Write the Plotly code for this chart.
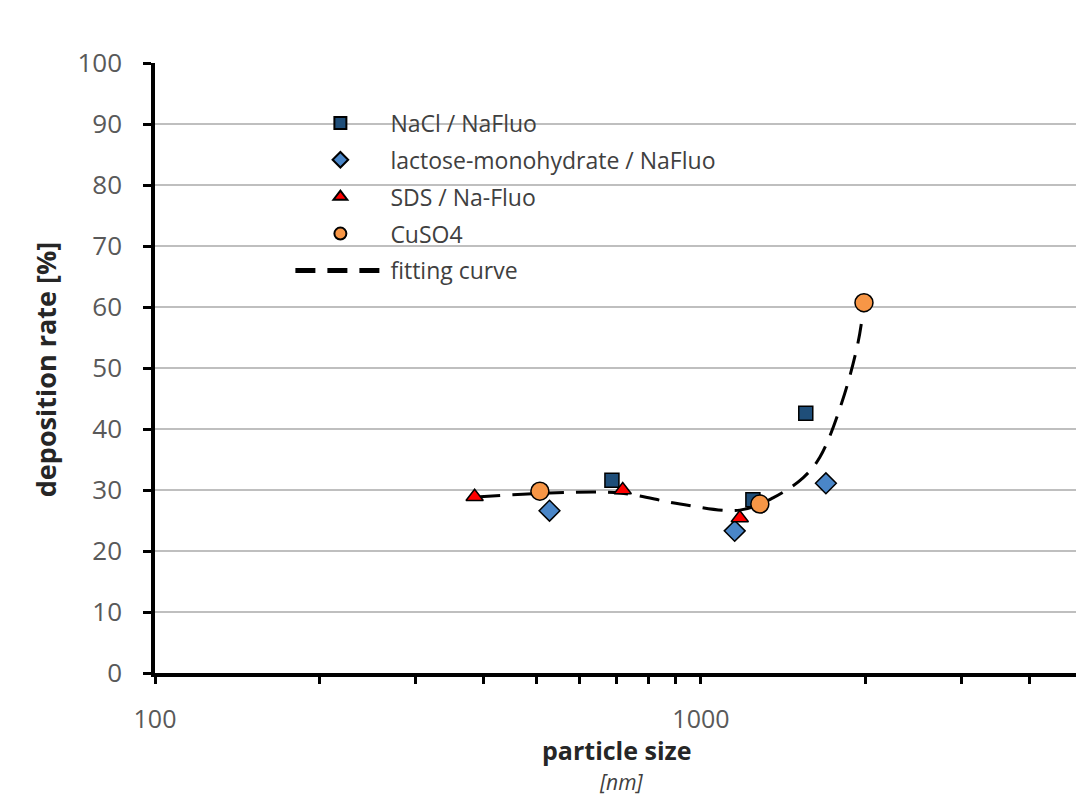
import plotly.graph_objects as go

# Data
nacl_x = [687, 1245, 1556]
nacl_y = [31.6, 28.4, 42.6]
lact_x = [528, 1153, 1694]
lact_y = [26.6, 23.3, 31.1]
sds_x = [385, 719, 1178]
sds_y = [28.9, 30.0, 25.4]
cuso4_x = [507, 1282, 1989]
cuso4_y = [29.8, 27.7, 60.7]
fit_x = [394, 528, 711, 916, 1178, 1355, 1538, 1652, 1811, 1939, 1989]
fit_y = [28.9, 29.5, 29.5, 27.7, 26.7, 28.7, 32.0, 35.4, 44.3, 54.1, 60.5]

FONT = "Open Sans"
line = dict(color="black", width=1.5)

fig = go.Figure()
fig.add_trace(go.Scatter(x=fit_x, y=fit_y, mode="lines", name="fitting curve",
                         legendgroup="e", legendrank=5,
                         line=dict(color="black", width=3, dash="20px,12px", shape="spline")))
fig.add_trace(go.Scatter(x=nacl_x, y=nacl_y, mode="markers", name="NaCl / NaFluo",
                         legendgroup="a", legendrank=1,
                         marker=dict(symbol="square", size=14, color="#1F4E79", line=line)))
fig.add_trace(go.Scatter(x=lact_x, y=lact_y, mode="markers", name="lactose-monohydrate / NaFluo",
                         legendgroup="b", legendrank=2,
                         marker=dict(symbol="diamond", size=16, color="#4A86C8", line=line)))
fig.add_trace(go.Scatter(x=sds_x, y=sds_y, mode="markers", name="SDS / Na-Fluo",
                         legendgroup="c", legendrank=3,
                         marker=dict(symbol="triangle-up", size=15, color="#FF0000", line=line)))
fig.add_trace(go.Scatter(x=cuso4_x, y=cuso4_y, mode="markers", name="CuSO4",
                         legendgroup="d", legendrank=4,
                         marker=dict(symbol="circle", size=18, color="#F79646", line=line)))

fig.update_layout(
    width=1076, height=795,
    margin=dict(l=155, r=0, t=63, b=122),
    plot_bgcolor="white", paper_bgcolor="white",
    font=dict(family=FONT, color="#595959", size=22),
    showlegend=True,
    legend=dict(x=0.147, y=0.937, xanchor="left", yanchor="top",
                bgcolor="rgba(0,0,0,0)", font=dict(size=23, color="#404040", family=FONT),
                tracegroupgap=4, traceorder="grouped", itemwidth=90, itemsizing="constant"),
    xaxis=dict(type="log", range=[2, 3.687], showgrid=False, zeroline=False,
               showline=True, linecolor="black", linewidth=3.5,
               tickvals=[100, 1000], ticktext=["100", "1000"],
               ticks="outside", ticklen=7, tickwidth=3, tickcolor="black",
               ticklabelstandoff=14,
               tickfont=dict(size=25, color="#595959", family=FONT),
               minor=dict(tickvals=[200, 300, 400, 500, 600, 700, 800, 900, 2000, 3000, 4000],
                          ticks="outside", ticklen=7, tickwidth=3, tickcolor="black")),
    yaxis=dict(range=[0, 100], dtick=10, showgrid=True, gridcolor="#BFBFBF", gridwidth=1.5,
               zeroline=False, showline=True, linecolor="black", linewidth=3.5,
               ticks="outside", ticklen=8, tickwidth=3, tickcolor="black",
               ticklabelstandoff=16,
               tickfont=dict(size=26, color="#595959", family=FONT)),
    shapes=[dict(type="rect", xref="paper", yref="paper", layer="between",
                 x0=0.1249, x1=0.6515, y0=0.628, y1=0.939,
                 fillcolor="white", line=dict(width=0))],
    annotations=[
        dict(text="<b>particle size</b>", x=0.502, y=-0.127, xref="paper", yref="paper",
             xanchor="center", yanchor="middle",
             showarrow=False, font=dict(size=25, color="#262626", family=FONT)),
        dict(text="<i>[nm]</i>", x=0.507, y=-0.179, xref="paper", yref="paper",
             xanchor="center", yanchor="middle",
             showarrow=False, font=dict(size=21, color="#404040", family=FONT)),
        dict(text="<b>deposition rate [%]</b>", x=-0.119, y=0.497, xref="paper", yref="paper",
             xanchor="center", yanchor="middle",
             textangle=-90, showarrow=False, font=dict(size=27, color="#262626", family=FONT)),
    ],
)

fig.write_html("out.html")
